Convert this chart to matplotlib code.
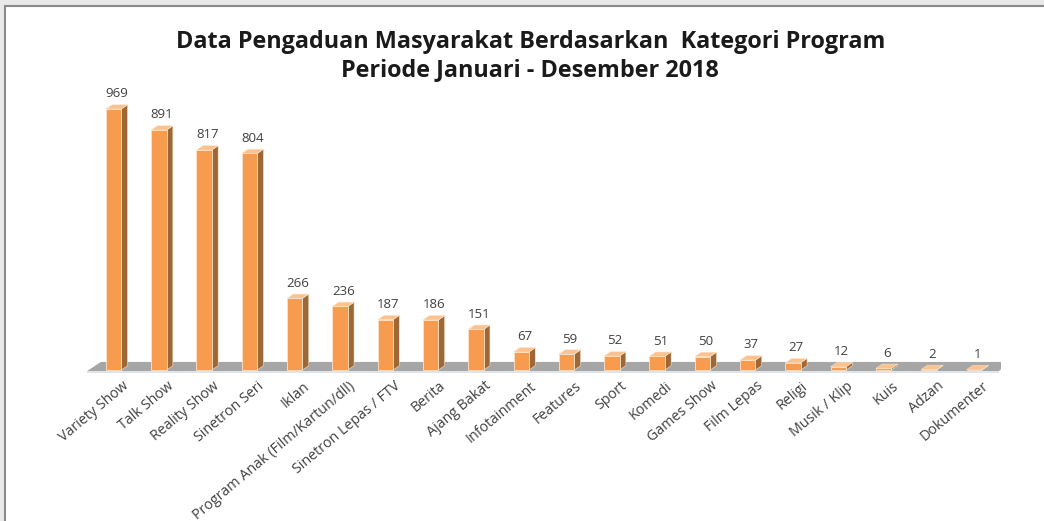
import numpy as np
import matplotlib.pyplot as plt
from matplotlib.patches import Polygon, Rectangle

## Data
categories = ['Variety Show', 'Talk Show', 'Reality Show', 'Sinetron Seri', 'Iklan',
              'Program Anak (Film/Kartun/dll)', 'Sinetron Lepas / FTV', 'Berita',
              'Ajang Bakat', 'Infotainment', 'Features', 'Sport', 'Komedi',
              'Games Show', 'Film Lepas', 'Religi', 'Musik / Klip', 'Kuis', 'Adzan',
              'Dokumenter']
values = [969, 891, 817, 804, 266, 236, 187, 186, 151, 67, 59, 52, 51, 50, 37, 27, 12, 6, 2, 1]
title = 'Data Pengaduan Masyarakat Berdasarkan  Kategori Program\nPeriode Januari - Desember 2018'

## Style
FRONT = '#F79B4E'
SIDE = '#9C6838'
TOP = '#FBC28E'
FLOOR = '#A6A6A6'
TXT = '#404040'

fig = plt.figure(figsize=(10.44, 5.21), dpi=100, facecolor='#e9e9e9')
fig.patches.append(Rectangle((5 / 1044, -0.1), 1.1, 1.1 - 6 / 521, transform=fig.transFigure,
                             facecolor='white', edgecolor='#8a8a8a', lw=1.5, zorder=-5))

ax = fig.add_axes([0.0827, 0.2691, 0.8765, 0.5893])
ax.set_zorder(2)
ax.set_xlim(-0.6, 19.6)
ax.set_ylim(-40, 1100)
ax.axis('off')

x = np.arange(len(values))
w = 0.34
dx, dy = 0.14, 16

# floor slab
ax.add_patch(Polygon([(-0.585, -4), (19.55, -4), (19.75, 30), (-0.28, 30)],
                     closed=True, facecolor=FLOOR, edgecolor='none', zorder=1))
ax.add_patch(Polygon([(-0.585, -4), (19.55, -4), (19.55, -10), (-0.585, -10)],
                     closed=True, facecolor='#dfe4ea', edgecolor='none', zorder=1))

# bars: front face through ax.bar, side and top as polygons
ax.bar(x, values, width=w, color=FRONT, edgecolor='#fde3c8', lw=0.6, zorder=3)
for xi, v in zip(x, values):
    r = xi + w / 2
    l = xi - w / 2
    ax.add_patch(Polygon([(r, 0), (r + dx, dy), (r + dx, v + dy), (r, v)],
                         facecolor=SIDE, edgecolor='#fde3c8', lw=0.4, zorder=2))
    ax.add_patch(Polygon([(l, v), (r, v), (r + dx, v + dy), (l + dx, v + dy)],
                         facecolor=TOP, edgecolor='#fde3c8', lw=0.4, zorder=4))
    ax.text(xi + dx / 2, v + 32, str(v), ha='center', va='bottom',
            fontsize=9.5, color=TXT, family='Open Sans')

for xi, c in zip(x, categories):
    ax.text(xi + 0.18, -32, c, rotation=40, rotation_mode='anchor', ha='right', va='top',
            fontsize=10.3, color=TXT, family='Open Sans', clip_on=False)

fig.text(0.508, 0.893, title, ha='center', va='center', fontsize=16.8,
         fontweight='bold', family='Open Sans', color='#1a1a1a', linespacing=1.2)

fig.savefig('out.png', dpi=100, facecolor=fig.get_facecolor())
